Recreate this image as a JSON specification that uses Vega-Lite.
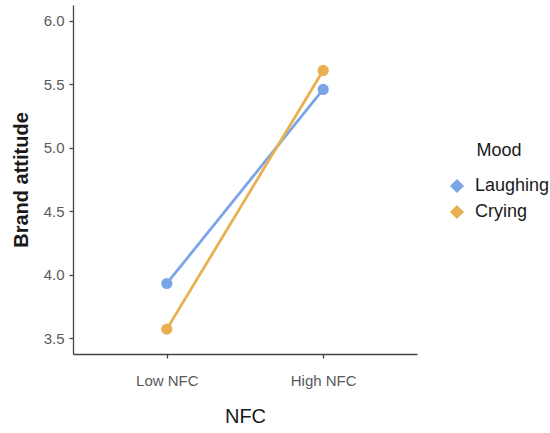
{
  "$schema": "https://vega.github.io/schema/vega-lite/v6.json",
  "autosize": {"type": "none"},
  "padding": {"left": 73, "top": 5, "right": 133, "bottom": 79},
  "width": 344,
  "height": 349,
  "background": "white",
  "data": {
    "values": [
      {"NFC": "Low NFC", "Mood": "Laughing", "attitude": 3.93},
      {"NFC": "High NFC", "Mood": "Laughing", "attitude": 5.46},
      {"NFC": "Low NFC", "Mood": "Crying", "attitude": 3.57},
      {"NFC": "High NFC", "Mood": "Crying", "attitude": 5.61}
    ]
  },
  "config": {
    "view": {"stroke": null},
    "font": "Liberation Sans",
    "axis": {
      "grid": false,
      "domainColor": "#444444",
      "domainWidth": 1.3,
      "tickColor": "#444444",
      "tickWidth": 1.3,
      "tickSize": 4,
      "labelColor": "#5A5A5A",
      "labelFontSize": 15,
      "labelFont": "Liberation Sans",
      "titleFont": "Liberation Sans",
      "titleFontSize": 20,
      "titleFontWeight": "normal",
      "titleColor": "#1a1a1a"
    }
  },
  "encoding": {
    "x": {
      "field": "NFC",
      "type": "nominal",
      "sort": ["Low NFC", "High NFC"],
      "scale": {"type": "point", "padding": 0.6},
      "axis": {"labelAngle": 0, "labelPadding": 15, "titlePadding": 18, "title": "NFC"}
    },
    "y": {
      "field": "attitude",
      "type": "quantitative",
      "scale": {"domain": [3.374, 6.126], "nice": false, "zero": false},
      "axis": {"values": [3.5, 4.0, 4.5, 5.0, 5.5, 6.0], "format": ".1f", "title": "Brand attitude", "titlePadding": 12, "labelPadding": 5, "titleFontWeight": "bold"}
    },
    "color": {
      "field": "Mood",
      "type": "nominal",
      "sort": ["Laughing", "Crying"],
      "scale": {"domain": ["Laughing", "Crying"], "range": ["#7AA6E8", "#E8B04E"]},
      "legend": {
        "orient": "none",
        "legendX": 375,
        "legendY": 137,
        "title": "Mood",
        "titleAnchor": "middle",
        "titleFontSize": 18,
        "titleFontWeight": "normal",
        "titleColor": "#1a1a1a",
        "titlePadding": 17,
        "labelFontSize": 18,
        "labelColor": "#1a1a1a",
        "symbolType": "diamond",
        "symbolSize": 200,
        "symbolStrokeWidth": 0,
        "rowPadding": 8,
        "labelOffset": 9
      }
    }
  },
  "layer": [
    {"mark": {"type": "line", "strokeWidth": 2.8}},
    {"mark": {"type": "circle", "size": 125, "opacity": 1}}
  ]
}
